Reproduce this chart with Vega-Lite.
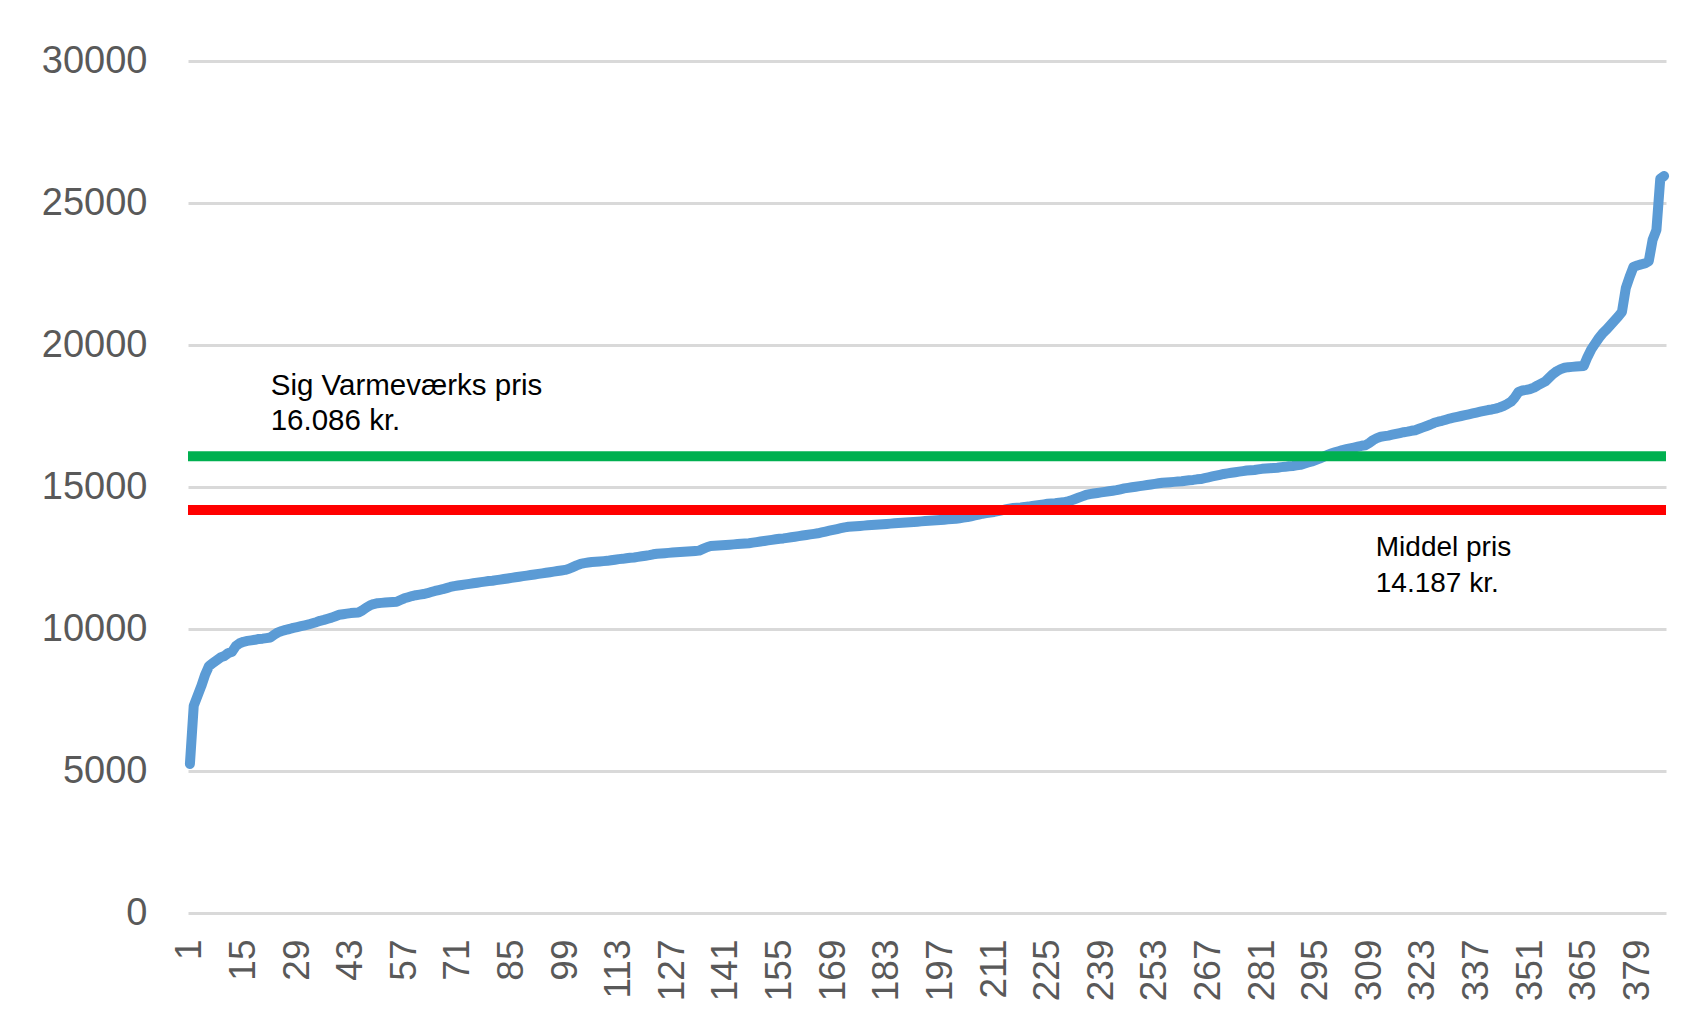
{
"$schema": "https://vega.github.io/schema/vega-lite/v6.json",
"width": 1478,
"height": 852,
"autosize": {"type": "none"},
"padding": {"left": 188, "top": 61, "right": 42, "bottom": 118},
"background": "white",
"config": {"view": {"stroke": null}, "font": "Liberation Sans"},
"datasets": {
"prices": [
{"i":1,"p":5250},{"i":2,"p":7300},{"i":3,"p":7650},{"i":4,"p":8000},{"i":5,"p":8400},{"i":6,"p":8700},{"i":7,"p":8800},{"i":8,"p":8900},{"i":9,"p":9000},{"i":10,"p":9050},
{"i":11,"p":9150},{"i":12,"p":9200},{"i":13,"p":9400},{"i":14,"p":9500},{"i":15,"p":9550},{"i":16,"p":9580},{"i":17,"p":9600},{"i":18,"p":9620},{"i":19,"p":9650},{"i":20,"p":9660},
{"i":21,"p":9680},{"i":22,"p":9700},{"i":23,"p":9800},{"i":24,"p":9880},{"i":25,"p":9930},{"i":26,"p":9970},{"i":27,"p":10000},{"i":28,"p":10040},{"i":29,"p":10070},{"i":30,"p":10100},
{"i":31,"p":10130},{"i":32,"p":10160},{"i":33,"p":10200},{"i":34,"p":10240},{"i":35,"p":10290},{"i":36,"p":10320},{"i":37,"p":10360},{"i":38,"p":10400},{"i":39,"p":10450},{"i":40,"p":10500},
{"i":41,"p":10520},{"i":42,"p":10540},{"i":43,"p":10560},{"i":44,"p":10570},{"i":45,"p":10580},{"i":46,"p":10650},{"i":47,"p":10750},{"i":48,"p":10830},{"i":49,"p":10880},{"i":50,"p":10910},
{"i":51,"p":10920},{"i":52,"p":10930},{"i":53,"p":10940},{"i":54,"p":10950},{"i":55,"p":10960},{"i":56,"p":11020},{"i":57,"p":11080},{"i":58,"p":11120},{"i":59,"p":11160},{"i":60,"p":11190},
{"i":61,"p":11210},{"i":62,"p":11230},{"i":63,"p":11260},{"i":64,"p":11300},{"i":65,"p":11340},{"i":66,"p":11370},{"i":67,"p":11400},{"i":68,"p":11440},{"i":69,"p":11480},{"i":70,"p":11510},
{"i":71,"p":11530},{"i":72,"p":11550},{"i":73,"p":11570},{"i":74,"p":11590},{"i":75,"p":11610},{"i":76,"p":11630},{"i":77,"p":11650},{"i":78,"p":11670},{"i":79,"p":11690},{"i":80,"p":11700},
{"i":81,"p":11720},{"i":82,"p":11740},{"i":83,"p":11760},{"i":84,"p":11780},{"i":85,"p":11800},{"i":86,"p":11820},{"i":87,"p":11840},{"i":88,"p":11860},{"i":89,"p":11880},{"i":90,"p":11900},
{"i":91,"p":11920},{"i":92,"p":11940},{"i":93,"p":11960},{"i":94,"p":11980},{"i":95,"p":12000},{"i":96,"p":12020},{"i":97,"p":12040},{"i":98,"p":12060},{"i":99,"p":12080},{"i":100,"p":12120},
{"i":101,"p":12180},{"i":102,"p":12240},{"i":103,"p":12290},{"i":104,"p":12320},{"i":105,"p":12340},{"i":106,"p":12360},{"i":107,"p":12370},{"i":108,"p":12380},{"i":109,"p":12390},{"i":110,"p":12400},
{"i":111,"p":12420},{"i":112,"p":12440},{"i":113,"p":12460},{"i":114,"p":12470},{"i":115,"p":12490},{"i":116,"p":12510},{"i":117,"p":12520},{"i":118,"p":12540},{"i":119,"p":12560},{"i":120,"p":12580},
{"i":121,"p":12600},{"i":122,"p":12630},{"i":123,"p":12650},{"i":124,"p":12660},{"i":125,"p":12670},{"i":126,"p":12680},{"i":127,"p":12690},{"i":128,"p":12700},{"i":129,"p":12710},{"i":130,"p":12720},
{"i":131,"p":12730},{"i":132,"p":12740},{"i":133,"p":12750},{"i":134,"p":12760},{"i":135,"p":12820},{"i":136,"p":12880},{"i":137,"p":12920},{"i":138,"p":12930},{"i":139,"p":12940},{"i":140,"p":12950},
{"i":141,"p":12960},{"i":142,"p":12970},{"i":143,"p":12980},{"i":144,"p":12990},{"i":145,"p":13000},{"i":146,"p":13010},{"i":147,"p":13020},{"i":148,"p":13040},{"i":149,"p":13060},{"i":150,"p":13080},
{"i":151,"p":13100},{"i":152,"p":13120},{"i":153,"p":13140},{"i":154,"p":13160},{"i":155,"p":13180},{"i":156,"p":13190},{"i":157,"p":13210},{"i":158,"p":13230},{"i":159,"p":13250},{"i":160,"p":13270},
{"i":161,"p":13290},{"i":162,"p":13310},{"i":163,"p":13330},{"i":164,"p":13350},{"i":165,"p":13370},{"i":166,"p":13400},{"i":167,"p":13430},{"i":168,"p":13460},{"i":169,"p":13490},{"i":170,"p":13520},
{"i":171,"p":13550},{"i":172,"p":13580},{"i":173,"p":13600},{"i":174,"p":13610},{"i":175,"p":13620},{"i":176,"p":13630},{"i":177,"p":13640},{"i":178,"p":13650},{"i":179,"p":13660},{"i":180,"p":13670},
{"i":181,"p":13680},{"i":182,"p":13690},{"i":183,"p":13700},{"i":184,"p":13710},{"i":185,"p":13720},{"i":186,"p":13730},{"i":187,"p":13740},{"i":188,"p":13750},{"i":189,"p":13760},{"i":190,"p":13770},
{"i":191,"p":13780},{"i":192,"p":13790},{"i":193,"p":13800},{"i":194,"p":13810},{"i":195,"p":13820},{"i":196,"p":13830},{"i":197,"p":13840},{"i":198,"p":13850},{"i":199,"p":13860},{"i":200,"p":13870},
{"i":201,"p":13880},{"i":202,"p":13900},{"i":203,"p":13920},{"i":204,"p":13940},{"i":205,"p":13970},{"i":206,"p":14000},{"i":207,"p":14030},{"i":208,"p":14060},{"i":209,"p":14080},{"i":210,"p":14100},
{"i":211,"p":14120},{"i":212,"p":14150},{"i":213,"p":14180},{"i":214,"p":14210},{"i":215,"p":14240},{"i":216,"p":14260},{"i":217,"p":14270},{"i":218,"p":14280},{"i":219,"p":14300},{"i":220,"p":14310},
{"i":221,"p":14330},{"i":222,"p":14350},{"i":223,"p":14370},{"i":224,"p":14390},{"i":225,"p":14410},{"i":226,"p":14420},{"i":227,"p":14430},{"i":228,"p":14450},{"i":229,"p":14460},{"i":230,"p":14480},
{"i":231,"p":14520},{"i":232,"p":14570},{"i":233,"p":14620},{"i":234,"p":14670},{"i":235,"p":14720},{"i":236,"p":14750},{"i":237,"p":14770},{"i":238,"p":14790},{"i":239,"p":14810},{"i":240,"p":14830},
{"i":241,"p":14850},{"i":242,"p":14870},{"i":243,"p":14890},{"i":244,"p":14920},{"i":245,"p":14950},{"i":246,"p":14970},{"i":247,"p":14990},{"i":248,"p":15010},{"i":249,"p":15030},{"i":250,"p":15050},
{"i":251,"p":15070},{"i":252,"p":15090},{"i":253,"p":15110},{"i":254,"p":15130},{"i":255,"p":15150},{"i":256,"p":15160},{"i":257,"p":15170},{"i":258,"p":15180},{"i":259,"p":15190},{"i":260,"p":15200},
{"i":261,"p":15220},{"i":262,"p":15240},{"i":263,"p":15250},{"i":264,"p":15270},{"i":265,"p":15280},{"i":266,"p":15310},{"i":267,"p":15340},{"i":268,"p":15370},{"i":269,"p":15400},{"i":270,"p":15430},
{"i":271,"p":15460},{"i":272,"p":15480},{"i":273,"p":15500},{"i":274,"p":15520},{"i":275,"p":15540},{"i":276,"p":15560},{"i":277,"p":15580},{"i":278,"p":15590},{"i":279,"p":15600},{"i":280,"p":15620},
{"i":281,"p":15640},{"i":282,"p":15650},{"i":283,"p":15660},{"i":284,"p":15670},{"i":285,"p":15680},{"i":286,"p":15700},{"i":287,"p":15710},{"i":288,"p":15730},{"i":289,"p":15740},{"i":290,"p":15760},
{"i":291,"p":15780},{"i":292,"p":15820},{"i":293,"p":15860},{"i":294,"p":15900},{"i":295,"p":15950},{"i":296,"p":16000},{"i":297,"p":16060},{"i":298,"p":16120},{"i":299,"p":16180},{"i":300,"p":16220},
{"i":301,"p":16260},{"i":302,"p":16300},{"i":303,"p":16330},{"i":304,"p":16360},{"i":305,"p":16390},{"i":306,"p":16420},{"i":307,"p":16450},{"i":308,"p":16470},{"i":309,"p":16550},{"i":310,"p":16650},
{"i":311,"p":16720},{"i":312,"p":16770},{"i":313,"p":16790},{"i":314,"p":16810},{"i":315,"p":16840},{"i":316,"p":16870},{"i":317,"p":16900},{"i":318,"p":16930},{"i":319,"p":16950},{"i":320,"p":16980},
{"i":321,"p":17000},{"i":322,"p":17050},{"i":323,"p":17100},{"i":324,"p":17150},{"i":325,"p":17200},{"i":326,"p":17260},{"i":327,"p":17300},{"i":328,"p":17330},{"i":329,"p":17370},{"i":330,"p":17410},
{"i":331,"p":17440},{"i":332,"p":17470},{"i":333,"p":17500},{"i":334,"p":17530},{"i":335,"p":17560},{"i":336,"p":17590},{"i":337,"p":17620},{"i":338,"p":17650},{"i":339,"p":17680},{"i":340,"p":17710},
{"i":341,"p":17730},{"i":342,"p":17760},{"i":343,"p":17800},{"i":344,"p":17850},{"i":345,"p":17920},{"i":346,"p":18000},{"i":347,"p":18150},{"i":348,"p":18350},{"i":349,"p":18400},{"i":350,"p":18420},
{"i":351,"p":18450},{"i":352,"p":18500},{"i":353,"p":18580},{"i":354,"p":18650},{"i":355,"p":18720},{"i":356,"p":18850},{"i":357,"p":18980},{"i":358,"p":19080},{"i":359,"p":19150},{"i":360,"p":19200},
{"i":361,"p":19220},{"i":362,"p":19230},{"i":363,"p":19240},{"i":364,"p":19250},{"i":365,"p":19260},{"i":366,"p":19580},{"i":367,"p":19850},{"i":368,"p":20050},{"i":369,"p":20250},{"i":370,"p":20420},
{"i":371,"p":20550},{"i":372,"p":20700},{"i":373,"p":20850},{"i":374,"p":21000},{"i":375,"p":21170},{"i":376,"p":22000},{"i":377,"p":22400},{"i":378,"p":22750},{"i":379,"p":22800},{"i":380,"p":22840},
{"i":381,"p":22870},{"i":382,"p":22950},{"i":383,"p":23700},{"i":384,"p":24050},{"i":385,"p":25850},{"i":386,"p":25950}
],
"refs": [
{"name": "Sig Varmeværks pris", "value": 16086},
{"name": "Middel pris", "value": 14187}
],
"notesSig": [
{"label": "Sig Varmeværks pris", "i": 22.1, "p": 18240},
{"label": "16.086 kr.", "i": 22.1, "p": 17010}
],
"notesMid": [
{"label": "Middel pris", "i": 310.7, "p": 12570},
{"label": "14.187 kr.", "i": 310.7, "p": 11300}
]
},
"layer": [
{
"data": {"name": "prices"},
"mark": {"type": "line", "color": "#5b9bd5", "strokeWidth": 10, "strokeCap": "round", "strokeJoin": "round"},
"encoding": {
"x": {"field": "i", "type": "quantitative",
"scale": {"domain": [0.5, 386.5], "nice": false, "zero": false},
"axis": {"values": [1,15,29,43,57,71,85,99,113,127,141,155,169,183,197,211,225,239,253,267,281,295,309,323,337,351,365,379],
"labelAngle": -90, "labelFontSize": 37, "labelColor": "#595959", "labelPadding": 26,
"ticks": false, "domain": false, "grid": false, "title": null,
"labelOverlap": false, "labelBound": false, "labelFlush": false}},
"y": {"field": "p", "type": "quantitative",
"scale": {"domain": [0, 30000], "nice": false},
"axis": {"values": [0,5000,10000,15000,20000,25000,30000], "format": "d",
"labelFontSize": 38, "labelColor": "#595959", "labelPadding": 41,
"ticks": false, "domain": false, "grid": true, "gridColor": "#d9d9d9", "gridWidth": 3, "title": null}}
}
},
{
"data": {"name": "refs"},
"mark": {"type": "rule", "strokeWidth": 10},
"encoding": {
"y": {"field": "value", "type": "quantitative"},
"color": {"field": "name", "type": "nominal",
"scale": {"domain": ["Sig Varmeværks pris", "Middel pris"], "range": ["#00b050", "#ff0000"]},
"legend": null}
}
},
{
"data": {"name": "notesSig"},
"mark": {"type": "text", "align": "left", "baseline": "alphabetic", "fontSize": 29.5, "font": "Liberation Sans", "color": "#000000"},
"encoding": {
"x": {"field": "i", "type": "quantitative"},
"y": {"field": "p", "type": "quantitative"},
"text": {"field": "label"}
}
},
{
"data": {"name": "notesMid"},
"mark": {"type": "text", "align": "left", "baseline": "alphabetic", "fontSize": 28, "font": "Liberation Sans", "color": "#000000"},
"encoding": {
"x": {"field": "i", "type": "quantitative"},
"y": {"field": "p", "type": "quantitative"},
"text": {"field": "label"}
}
}
]
}
